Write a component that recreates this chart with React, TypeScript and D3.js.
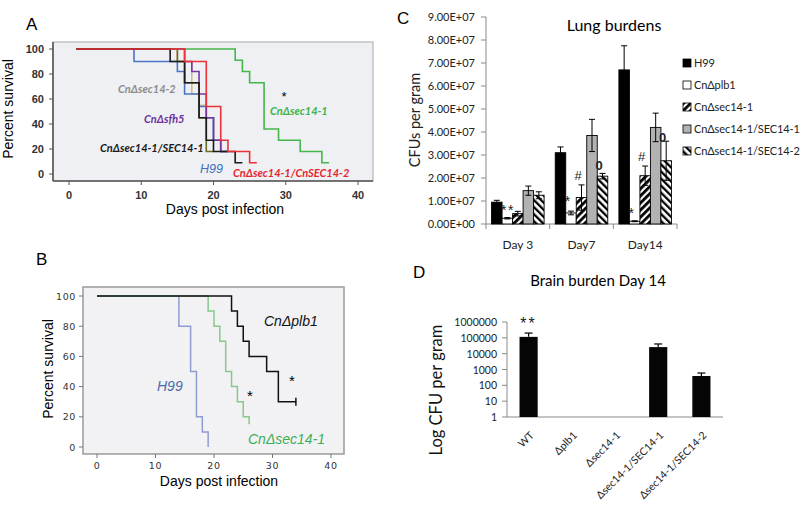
import React from 'react';
import * as d3 from 'd3';

type Pt = [number, number];

// ---------- Panel A : survival (day, percent) ----------
const aDayTicks = [0, 10, 20, 30, 40];
const aPctTicks = [0, 20, 40, 60, 80, 100];
const aH99: Pt[] = [[1, 100], [9, 90], [15, 82], [16, 64], [18, 54], [19, 45], [20, 27], [21, 18], [22, 18]];
const aSec14_2: Pt[] = [[1, 100], [15, 90], [17, 64], [18, 55], [19, 45], [20, 27], [21, 18], [22, 18]];
const aSfh5: Pt[] = [[1, 100], [16, 90], [17, 82], [18, 64], [19, 45], [20, 27], [21, 18], [22, 18]];
const aOlive: Pt[] = [[1, 100], [15, 90], [16, 73], [18, 45], [19, 18], [20, 18]];
const aSec14_1Sec14_1: Pt[] = [[1, 100], [14, 90], [16, 73], [18, 45], [19, 27], [20, 18], [23, 9], [24, 9]];
const aSec14_1CnSec14_2: Pt[] = [[1, 100], [16, 90], [19, 54], [21, 27], [22, 18], [25, 9], [26, 9]];
const aSec14_1: Pt[] = [[1, 100], [23, 91], [24, 82], [25, 73], [27, 36], [29, 27], [32, 18], [35, 9], [36, 9]];

// ---------- Panel B : survival ----------
const bDayTicks = [0, 10, 20, 30, 40];
const bPctTicks = [0, 20, 40, 60, 80, 100];
const bH99: Pt[] = [[0, 100], [14, 80], [16, 50], [17, 20], [18, 10], [19, 0]];
const bSec14_1: Pt[] = [[0, 100], [19, 90], [20, 80], [21, 70], [22, 50], [23, 40], [24, 30], [25, 20], [26, 15]];
const bPlb1: Pt[] = [[0, 100], [23, 90], [24, 80], [25, 70], [26, 60], [29, 50], [31, 30], [34, 30]];

// ---------- Panel C : lung burdens ----------
const cDays = ['Day 3', 'Day7', 'Day14'];
const cSeries = ['H99', 'CnΔplb1', 'CnΔsec14-1', 'CnΔsec14-1/SEC14-1', 'CnΔsec14-1/SEC14-2'];
const cH99 = [0.95e7, 3.1e7, 6.7e7];
const cH99Err = [0.08e7, 0.25e7, 1.05e7];
const cPlb1 = [0.25e7, 0.48e7, 0.12e7];
const cPlb1Err = [0.03e7, 0.08e7, 0.02e7];
const cSec14 = [0.45e7, 1.15e7, 2.1e7];
const cSec14Err = [0.1e7, 0.55e7, 0.42e7];
const cComp1 = [1.45e7, 3.85e7, 4.2e7];
const cComp1Err = [0.2e7, 0.7e7, 0.62e7];
const cComp2 = [1.25e7, 2.08e7, 2.75e7];
const cComp2Err = [0.15e7, 0.12e7, 0.85e7];
const cTicks = [0, 1e7, 2e7, 3e7, 4e7, 5e7, 6e7, 7e7, 8e7, 9e7];
const cTickLabels = ['0.00E+00', '1.00E+07', '2.00E+07', '3.00E+07', '4.00E+07', '5.00E+07', '6.00E+07', '7.00E+07', '8.00E+07', '9.00E+07'];
// annotations: day index, series index, symbol, value (vertical centre)
const cNotes: [number, number, string, number][] = [
  [0, 1, '*', 0.74e7], [0, 2, '*', 0.74e7],
  [1, 1, '*', 1.13e7], [1, 2, '#', 2.13e7], [1, 4, '0', 2.57e7],
  [2, 1, '*', 0.6e7], [2, 2, '#', 2.96e7], [2, 4, '0', 3.78e7],
];

// ---------- Panel D : brain burden ----------
const dCats = ['WT', 'Δplb1', 'Δsec14-1', 'Δsec14-1/SEC14-1', 'Δsec14-1/SEC14-2'];
const dValues = [115000, 0, 0, 26000, 390];
const dErr = [85000, 0, 0, 15000, 210];
const dTicks = [1, 10, 100, 1000, 10000, 100000, 1000000];
const dTickLabels = ['1', '10', '100', '1000', '10000', '100000', '1000000'];

const FA = "'Liberation Sans', Arial, sans-serif";
const FC = "Lato, 'Liberation Sans', sans-serif";
const FB = "'DejaVu Sans', Verdana, sans-serif";
const AXIS_GREY = '#8a8a8a';

function stepPath(data: Pt[], xs: d3.ScaleLinear<number, number>, ys: d3.ScaleLinear<number, number>) {
  return d3.line<Pt>().x(d => xs(d[0])).y(d => ys(d[1])).curve(d3.curveStepAfter)(data) || '';
}

export default function App() {
  // ----- scales A -----
  const ax = d3.scaleLinear().domain([0, 40]).range([69, 358]);
  const ay = d3.scaleLinear().domain([0, 100]).range([174, 49]);
  // ----- scales B -----
  const bx = d3.scaleLinear().domain([0, 40]).range([97, 331]);
  const by = d3.scaleLinear().domain([0, 100]).range([447, 296]);
  // ----- scales C -----
  const cx = d3.scaleBand<string>().domain(cDays).range([486, 677]).padding(0);
  const cInner = d3.scaleBand<string>().domain(cSeries).range([0, cx.bandwidth()]).paddingInner(0).paddingOuter(0.53);
  const cy = d3.scaleLinear().domain([0, 9e7]).range([224, 17]);
  const cVals = [cH99, cPlb1, cSec14, cComp1, cComp2];
  const cErrs = [cH99Err, cPlb1Err, cSec14Err, cComp1Err, cComp2Err];
  const cFills = ['#000000', '#ffffff', 'url(#hatchUp)', '#b2b2b2', 'url(#hatchDown)'];
  // ----- scales D -----
  const dx = d3.scaleBand<string>().domain(dCats).range([507, 723]).paddingInner(0.58).paddingOuter(0.29);
  const dy = d3.scaleLog().domain([1, 1e6]).range([417, 322]);

  const aCurves: [Pt[], string][] = [
    [aSec14_1, '#45b649'],
    [aSec14_2, '#cdbf8e'],
    [aH99, '#4a74c6'],
    [aSfh5, '#7a35a3'],
    [aOlive, '#6f6a22'],
    [aSec14_1Sec14_1, '#1a1a1a'],
    [aSec14_1CnSec14_2, '#ec3138'],
  ];

  const bCurves: [Pt[], string][] = [
    [bH99, '#8f9bd3'],
    [bSec14_1, '#86c98a'],
    [bPlb1, '#111111'],
  ];
  const bEnd = bPlb1[bPlb1.length - 1];

  return (
    <svg width={800} height={507} style={{ position: 'absolute', left: 0, top: 0, background: '#fff' }}>
      <defs>
        <pattern id="hatchUp" patternUnits="userSpaceOnUse" width="5" height="5" patternTransform="rotate(45)">
          <rect width="5" height="5" fill="#fff" />
          <rect width="2.8" height="5" fill="#000" />
        </pattern>
        <pattern id="hatchDown" patternUnits="userSpaceOnUse" width="5" height="5" patternTransform="rotate(-45)">
          <rect width="5" height="5" fill="#fff" />
          <rect width="2.3" height="5" fill="#000" />
        </pattern>
      </defs>

      {/* ================= Panel A ================= */}
      <text x={26} y={30} fontFamily={FA} fontSize={17}>A</text>
      <rect x={53} y={42} width={320} height={139} fill="#eef0f3" stroke="#b4b4b4" strokeWidth={1.2} />
      <line x1={53} x2={53} y1={42} y2={181} stroke="#555" strokeWidth={1.6} />
      <line x1={53} x2={373} y1={181} y2={181} stroke="#555" strokeWidth={1.6} />
      {aPctTicks.map(v => (
        <g key={'ay' + v}>
          <line x1={49} x2={53} y1={ay(v)} y2={ay(v)} stroke="#555" />
          <text x={44} y={ay(v) + 4} textAnchor="end" fontFamily={FA} fontWeight="bold" fontSize={11} fill="#333">{v}</text>
        </g>
      ))}
      {aDayTicks.map(v => (
        <g key={'ax' + v}>
          <line x1={ax(v)} x2={ax(v)} y1={181} y2={185} stroke="#555" />
          <text x={ax(v)} y={199} textAnchor="middle" fontFamily={FA} fontWeight="bold" fontSize={11} fill="#333">{v}</text>
        </g>
      ))}
      {aCurves.map(([d, c], i) => (
        <path key={'ac' + i} d={stepPath(d, ax, ay)} fill="none" stroke={c} strokeWidth={1.6} />
      ))}
      <text transform="translate(13,109) rotate(-90)" textAnchor="middle" fontFamily={FA} fontSize={14}>Percent survival</text>
      <text x={225} y={214} textAnchor="middle" fontFamily={FA} fontSize={14}>Days post infection</text>
      <g fontFamily={FC} fontStyle="italic" fontWeight="bold" fontSize={11}>
        <text x={118} y={93} fill="#8c8c8c">CnΔsec14-2</text>
        <text x={144} y={123} fill="#7030a0">CnΔsfh5</text>
        <text x={100} y={152} fill="#1a1a1a">CnΔsec14-1/SEC14-1</text>
        <text x={233} y={177} fill="#e8262f">CnΔsec14-1/CnSEC14-2</text>
        <text x={270} y={115} fill="#3cb44b">CnΔsec14-1</text>
      </g>
      <text x={200} y={173} fontFamily={FA} fontStyle="italic" fontSize={12.5} fill="#3f6fbf">H99</text>
      <text x={284} y={101} textAnchor="middle" fontFamily={FA} fontSize={13}>*</text>

      {/* ================= Panel B ================= */}
      <text x={36} y={265} fontFamily={FA} fontSize={17}>B</text>
      <rect x={83} y={287} width={261} height={167} fill="#f2f2f4" stroke="#9a9a9a" strokeWidth={1.5} />
      {bPctTicks.map(v => (
        <g key={'by' + v}>
          <line x1={79} x2={83} y1={by(v)} y2={by(v)} stroke="#777" />
          <text x={76} y={by(v) + 3.5} textAnchor="end" fontFamily={FB} fontSize={9.5} letterSpacing={0.6} fill="#333">{v}</text>
        </g>
      ))}
      {bDayTicks.map(v => (
        <g key={'bx' + v}>
          <line x1={bx(v)} x2={bx(v)} y1={454} y2={458} stroke="#777" />
          <text x={bx(v)} y={469} textAnchor="middle" fontFamily={FB} fontSize={9.5} letterSpacing={0.6} fill="#333">{v}</text>
        </g>
      ))}
      {bCurves.map(([d, c], i) => (
        <path key={'bc' + i} d={stepPath(d, bx, by)} fill="none" stroke={c} strokeWidth={1.5} />
      ))}
      <line x1={bx(bEnd[0])} x2={bx(bEnd[0])} y1={by(bEnd[1]) - 4} y2={by(bEnd[1]) + 4} stroke="#111" strokeWidth={1.5} />
      <text transform="translate(53,369) rotate(-90)" textAnchor="middle" fontFamily={FA} fontSize={14}>Percent survival</text>
      <text x={219} y={486} textAnchor="middle" fontFamily={FA} fontSize={14}>Days post infection</text>
      <g fontFamily={FA} fontStyle="italic" fontSize={14}>
        <text x={264} y={326} fill="#111">CnΔplb1</text>
        <text x={157} y={391} fill="#4a6aaa">H99</text>
        <text x={248} y={444} fill="#3fae55">CnΔsec14-1</text>
      </g>
      <text x={250} y={401} textAnchor="middle" fontFamily={FA} fontSize={15}>*</text>
      <text x={292} y={386} textAnchor="middle" fontFamily={FA} fontSize={15}>*</text>

      {/* ================= Panel C ================= */}
      <text x={397} y={24} fontFamily={FA} fontSize={17}>C</text>
      <text x={614} y={31} textAnchor="middle" fontFamily={FC} fontSize={16}>Lung burdens</text>
      <line x1={486} x2={486} y1={cy(9e7)} y2={cy(0)} stroke={AXIS_GREY} />
      <line x1={486} x2={677} y1={cy(0)} y2={cy(0)} stroke={AXIS_GREY} />
      {cTicks.map((v, i) => (
        <g key={'cy' + i}>
          <line x1={481} x2={486} y1={cy(v)} y2={cy(v)} stroke={AXIS_GREY} />
          <text x={475} y={cy(v) + 4} textAnchor="end" fontFamily={FC} fontSize={11} fill="#222">{cTickLabels[i]}</text>
        </g>
      ))}
      {[...cDays.map(d => cx(d) as number), 677].map((x, i) => (
        <line key={'cxt' + i} x1={x} x2={x} y1={cy(0)} y2={cy(0) + 5} stroke={AXIS_GREY} />
      ))}
      {cDays.map(d => (
        <text key={'cl' + d} x={(cx(d) as number) + cx.bandwidth() / 2} y={249} textAnchor="middle" fontFamily={FC} fontSize={12} fill="#222">{d}</text>
      ))}
      {cDays.map((d, di) => (
        <g key={'cg' + d}>
          {cSeries.map((s, si) => {
            const x0 = (cx(d) as number) + (cInner(s) as number);
            const w = cInner.bandwidth();
            const v = cVals[si][di];
            const e = cErrs[si][di];
            const xc = x0 + w / 2;
            return (
              <g key={s}>
                <rect x={x0} y={cy(v)} width={w} height={cy(0) - cy(v)} fill={cFills[si]} stroke="#000" strokeWidth={0.9} />
                <line x1={xc} x2={xc} y1={cy(v + e)} y2={cy(v - e)} stroke="#000" strokeWidth={1} />
                <line x1={xc - 3} x2={xc + 3} y1={cy(v + e)} y2={cy(v + e)} stroke="#000" strokeWidth={1} />
                <line x1={xc - 3} x2={xc + 3} y1={cy(v - e)} y2={cy(v - e)} stroke="#000" strokeWidth={1} />
              </g>
            );
          })}
        </g>
      ))}
      {cNotes.map(([di, si, sym, v], i) => {
        const xc = (cx(cDays[di]) as number) + (cInner(cSeries[si]) as number) + cInner.bandwidth() / 2 - (di === 0 && si === 2 ? 7 : 3.5);
        const off = sym === '*' ? 8 : 5;
        return (
          <text key={'cn' + i} x={xc} y={cy(v) + off} textAnchor="middle" fontFamily={FA} fontSize={sym === '*' ? 14 : 13} fontWeight={sym === '0' ? 'bold' : 'normal'} fill="#222">{sym}</text>
        );
      })}
      {cSeries.map((s, si) => {
        const yc = 63 + si * 22;
        return (
          <g key={'leg' + s}>
            <rect x={683} y={yc - 4} width={8} height={8} fill={cFills[si]} stroke="#000" strokeWidth={0.8} />
            <text x={694} y={yc + 4} fontFamily={FC} fontSize={11} letterSpacing={-0.1} fill="#222">{s}</text>
          </g>
        );
      })}
      <text transform="translate(420,120) rotate(-90)" textAnchor="middle" fontFamily={FC} fontSize={14.5} fill="#222">CFUs per gram</text>

      {/* ================= Panel D ================= */}
      <text x={413} y={278} fontFamily={FA} fontSize={17}>D</text>
      <text x={598} y={286} textAnchor="middle" fontFamily={FC} fontSize={15}>Brain burden Day 14</text>
      <line x1={507} x2={507} y1={dy(1e6)} y2={dy(1)} stroke={AXIS_GREY} />
      <line x1={507} x2={723} y1={dy(1)} y2={dy(1)} stroke={AXIS_GREY} />
      {dTicks.map((v, i) => (
        <g key={'dy' + i}>
          <line x1={502} x2={507} y1={dy(v)} y2={dy(v)} stroke={AXIS_GREY} />
          <text x={497} y={dy(v) + 4} textAnchor="end" fontFamily={FC} fontSize={10.5} fill="#222">{dTickLabels[i]}</text>
        </g>
      ))}
      {dCats.map((c, i) => {
        const v = dValues[i];
        if (!(v > 1)) return null;
        const x0 = dx(c) as number;
        const w = dx.bandwidth();
        const xc = x0 + w / 2;
        const top = dy(v + dErr[i]);
        return (
          <g key={'db' + c}>
            <rect x={x0} y={dy(v)} width={w} height={dy(1) - dy(v)} fill="#050505" />
            <line x1={xc} x2={xc} y1={top} y2={dy(v)} stroke="#000" strokeWidth={1.2} />
            <line x1={xc - 4} x2={xc + 4} y1={top} y2={top} stroke="#000" strokeWidth={1.2} />
          </g>
        );
      })}
      {dCats.map(c => {
        const xc = (dx(c) as number) + dx.bandwidth() / 2;
        return (
          <text key={'dl' + c} transform={`translate(${xc + 6},436) rotate(-45)`} textAnchor="end" fontFamily={FC} fontSize={10.5} fill="#222">{c}</text>
        );
      })}
      <text x={(dx('WT') as number) + dx.bandwidth() / 2} y={329} textAnchor="middle" fontFamily={FA} fontSize={16} letterSpacing={2} fill="#222">**</text>
      <text transform="translate(442,390) rotate(-90)" textAnchor="middle" fontFamily={FC} fontSize={16.5} fill="#111">Log CFU per gram</text>
    </svg>
  );
}
